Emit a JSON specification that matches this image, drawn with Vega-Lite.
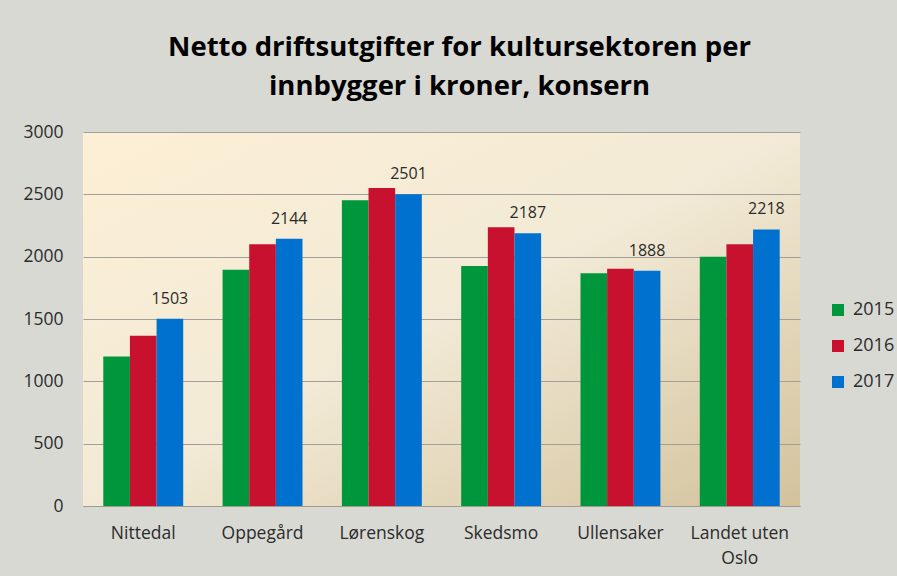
{
  "$schema": "https://vega.github.io/schema/vega-lite/v6.json",
  "width": 717,
  "height": 374,
  "autosize": {"type": "none"},
  "padding": {"left": 83, "top": 132, "right": 97, "bottom": 70},
  "background": "#d9d9d4",
  "title": {
    "text": ["Netto driftsutgifter for kultursektoren per", "innbygger i kroner, konsern"],
    "font": "Open Sans",
    "fontSize": 27.5,
    "fontWeight": "bold",
    "color": "#000000",
    "lineHeight": 39,
    "anchor": "middle",
    "baseline": "alphabetic",
    "dx": 18,
    "offset": 1
  },
  "data": {
    "values": [
      {"kommune": "Nittedal", "aar": "2015", "verdi": 1200},
      {"kommune": "Nittedal", "aar": "2016", "verdi": 1365},
      {"kommune": "Nittedal", "aar": "2017", "verdi": 1503},
      {"kommune": "Oppegård", "aar": "2015", "verdi": 1895},
      {"kommune": "Oppegård", "aar": "2016", "verdi": 2100},
      {"kommune": "Oppegård", "aar": "2017", "verdi": 2144},
      {"kommune": "Lørenskog", "aar": "2015", "verdi": 2452},
      {"kommune": "Lørenskog", "aar": "2016", "verdi": 2551},
      {"kommune": "Lørenskog", "aar": "2017", "verdi": 2501},
      {"kommune": "Skedsmo", "aar": "2015", "verdi": 1925},
      {"kommune": "Skedsmo", "aar": "2016", "verdi": 2235},
      {"kommune": "Skedsmo", "aar": "2017", "verdi": 2187},
      {"kommune": "Ullensaker", "aar": "2015", "verdi": 1866},
      {"kommune": "Ullensaker", "aar": "2016", "verdi": 1904},
      {"kommune": "Ullensaker", "aar": "2017", "verdi": 1888},
      {"kommune": "Landet uten Oslo", "aar": "2015", "verdi": 2000},
      {"kommune": "Landet uten Oslo", "aar": "2016", "verdi": 2099},
      {"kommune": "Landet uten Oslo", "aar": "2017", "verdi": 2218}
    ]
  },
  "encoding": {
    "x": {
      "field": "kommune",
      "type": "nominal",
      "sort": null,
      "scale": {"paddingInner": 0.33, "paddingOuter": 0.17},
      "axis": {
        "title": null,
        "labelAngle": 0,
        "ticks": false,
        "domain": true,
        "domainColor": "#9e9b94",
        "labelFont": "Open Sans",
        "labelFontSize": 17.5,
        "labelColor": "#2b2b2b",
        "labelPadding": 18,
        "labelLineHeight": 25,
        "labelExpr": "datum.value === 'Landet uten Oslo' ? ['Landet uten', 'Oslo'] : datum.value"
      }
    },
    "y": {
      "field": "verdi",
      "type": "quantitative",
      "scale": {"domain": [0, 3000], "nice": false},
      "axis": {
        "title": null,
        "values": [0, 500, 1000, 1500, 2000, 2500, 3000],
        "format": "d",
        "ticks": false,
        "domain": false,
        "grid": true,
        "gridColor": "#a29f98",
        "gridWidth": 1,
        "labelFont": "Open Sans",
        "labelFontSize": 17.5,
        "labelColor": "#2b2b2b",
        "labelPadding": 20
      }
    }
  },
  "layer": [
    {
      "mark": {"type": "bar"},
      "encoding": {
        "xOffset": {"field": "aar", "type": "nominal", "scale": {"paddingInner": 0, "paddingOuter": 0}},
        "color": {
          "field": "aar",
          "type": "nominal",
          "scale": {"domain": ["2015", "2016", "2017"], "range": ["#00963b", "#c8102f", "#0071ce"]},
          "legend": {
            "title": null,
            "orient": "none",
            "legendX": 746,
            "legendY": 169,
            "padding": 0,
            "symbolType": "square",
            "symbolSize": 144,
            "symbolStrokeWidth": 0,
            "labelFont": "Open Sans",
            "labelFontSize": 18,
            "labelColor": "#2b2b2b",
            "labelOffset": 6,
            "rowPadding": 18
          }
        }
      }
    },
    {
      "transform": [{"filter": "datum.aar === '2017'"}],
      "mark": {"type": "text", "baseline": "alphabetic", "dy": -15, "font": "Open Sans", "fontSize": 16, "color": "#2b2b2b"},
      "encoding": {
        "xOffset": {"field": "aar", "type": "nominal"},
        "text": {"field": "verdi", "type": "quantitative"}
      }
    }
  ],
  "config": {
    "view": {
      "stroke": null,
      "fill": {
        "gradient": "linear",
        "x1": 0, "y1": 0, "x2": 1, "y2": 1,
        "stops": [
          {"offset": 0, "color": "#fdefd5"},
          {"offset": 0.5, "color": "#f2ead6"},
          {"offset": 1, "color": "#d3c29c"}
        ]
      }
    }
  }
}
